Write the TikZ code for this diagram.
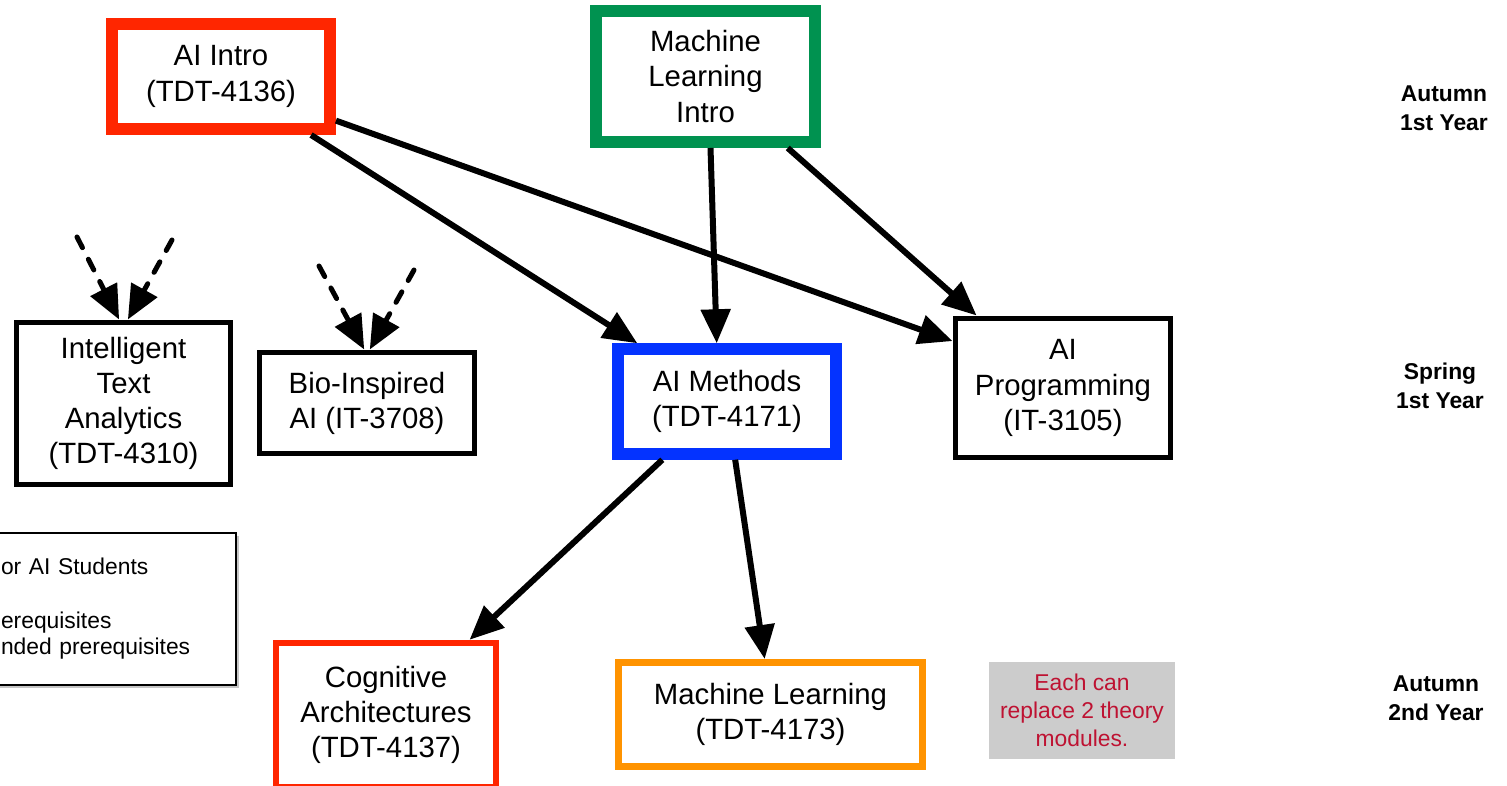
\documentclass[tikz,border=0pt]{standalone}
\usepackage{fontspec}
\setmainfont{Liberation Sans}
\usetikzlibrary{arrows.meta,shadows}

\definecolor{introred}{RGB}{255,38,0}
\definecolor{introgreen}{RGB}{0,146,80}
\definecolor{methblue}{RGB}{4,51,255}
\definecolor{mlorange}{RGB}{255,147,0}
\definecolor{notegray}{RGB}{204,204,204}
\definecolor{notered}{RGB}{190,18,50}

\begin{document}
\begin{tikzpicture}[x = 0.02cm, y = -0.02cm,
    course/.style = {draw, fill = white, align = center, inner sep = 0pt, line width = 0.1cm,
        font = \fontsize{16.7}{20}\selectfont},
    prereq/.style = {line width = 0.12cm, -{Triangle[length = 0.68cm, width = 0.58cm]}},
    optional/.style = {prereq, line width = 0.1cm, line cap = round, dash pattern = on 0.24cm off 0.26cm},
    term/.style = {align = center, font = \fontsize{13}{16.4}\selectfont\bfseries}]
    \useasboundingbox (0,0) rectangle (1507,786);

    % first year, autumn
    \node[course, draw = introred, line width = 0.24cm, minimum width = 4.36cm, minimum height = 2.1cm]
        (aiintro) at (221,76.5) {AI Intro\\(TDT-4136)};
    \node[course, draw = introgreen, line width = 0.24cm, minimum width = 4.38cm, minimum height = 2.62cm]
        (mlintro) at (705.5,76.5) {Machine\\Learning\\Intro};

    % first year, spring
    \node[course, minimum width = 4.3cm, minimum height = 3.26cm]
        (ita) at (123.5,403.5) {Intelligent\\Text\\Analytics\\(TDT-4310)};
    \node[course, minimum width = 4.32cm, minimum height = 2.04cm]
        (bio) at (367,403) {Bio-Inspired\\AI (IT-3708)};
    \node[course, draw = methblue, line width = 0.23cm, minimum width = 4.36cm, minimum height = 2.1cm]
        (aimeth) at (727,401.5) {AI Methods\\(TDT-4171)};
    \node[course, minimum width = 4.32cm, minimum height = 2.8cm]
        (aiprog) at (1063,388) {AI\\Programming\\(IT-3105)};

    % second year, autumn
    \node[course, draw = introred, line width = 0.13cm, minimum width = 4.4cm, minimum height = 2.88cm]
        (cogn) at (386,715) {Cognitive\\Architectures\\(TDT-4137)};
    \node[course, draw = mlorange, line width = 0.14cm, minimum width = 6.08cm, minimum height = 2.08cm]
        (ml) at (770.5,714.5) {Machine Learning\\(TDT-4173)};
    \node[fill = notegray, text = notered, align = center, minimum width = 3.72cm, minimum height = 1.94cm,
        font = \fontsize{13}{15.9}\selectfont] (note) at (1082,710.5) {Each can\\replace 2 theory\\modules.};

    % legend
    \node[draw, fill = white, line width = 0.05cm, minimum width = 5.12cm, minimum height = 3.04cm,
        text width = 4.28cm, align = left, inner sep = 0pt, font = \fontsize{13}{15.2}\selectfont,
        drop shadow = {shadow xshift = 0.06cm, shadow yshift = -0.06cm, opacity = 0.45}]
        (legend) at (108,609) {or AI Students\\\strut\\erequisites\\nded prerequisites};

    % terms
    \node[term] (autumnA) at (1444,108) {Autumn\\1st Year};
    \node[term] (springA) at (1440,386) {Spring\\1st Year};
    \node[term] (autumnB) at (1436,698) {Autumn\\2nd Year};

    % prerequisites
    \draw[prereq] (aiintro.-33) -- (aimeth.147);
    \draw[prereq] (aiintro.-21) -- (aiprog.157);
    \draw[prereq] (mlintro.-86) -- (aimeth.100);
    \draw[prereq] (mlintro.-41) -- (aiprog.140);
    \draw[prereq] (aimeth.-138) -- (cogn.42.5);
    \draw[prereq] (aimeth.-82) -- (ml.96);

    % recommended
    \coordinate (itaL) at (77,237);
    \coordinate (itaR) at (172,240);
    \coordinate (bioL) at (319,266);
    \coordinate (bioR) at (414,270);
    \draw[optional] (itaL) -- (ita.93);
    \draw[optional] (itaR) -- (ita.87);
    \draw[optional] (bioL) -- (bio.93);
    \draw[optional] (bioR) -- (bio.87);
\end{tikzpicture}
\end{document}
